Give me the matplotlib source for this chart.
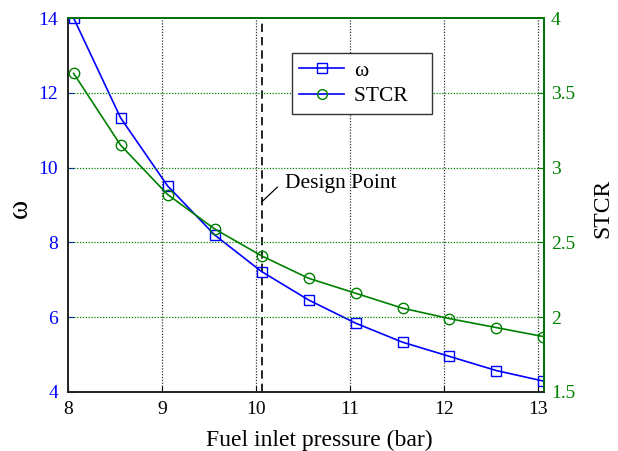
import matplotlib
matplotlib.use("Agg")
import matplotlib.pyplot as plt
from matplotlib.lines import Line2D

plt.rcParams['font.family'] = ['Liberation Serif', 'DejaVu Serif']

pressure = [8.06, 8.56, 9.06, 9.56, 10.06, 10.56, 11.06, 11.56, 12.06, 12.56, 13.06]
omega = [14.0, 11.33, 9.51, 8.20, 7.22, 6.46, 5.84, 5.33, 4.95, 4.57, 4.29]
stcr = [3.63, 3.15, 2.82, 2.59, 2.41, 2.26, 2.16, 2.06, 1.99, 1.93, 1.87]
design_point = 10.06
x_ticks = [8, 9, 10, 11, 12, 13]
left_ticks = [4, 6, 8, 10, 12, 14]
right_ticks = [1.5, 2, 2.5, 3, 3.5, 4]
right_labels = ['1.5', '2', '2.5', '3', '3.5', '4']

BLUE = '#0000ff'
GREEN = '#008000'

fig = plt.figure(figsize=(6.18, 4.51), dpi=100)
ax = fig.add_axes([0.110, 0.131, 0.770, 0.829])
ax2 = ax.twinx()

ax.plot(pressure, omega, color=BLUE, marker='s', markersize=7, markerfacecolor='none',
        markeredgecolor=BLUE, linewidth=1.2, zorder=3)
ax2.plot(pressure, stcr, color=GREEN, marker='o', markersize=7.5, markerfacecolor='none',
         markeredgecolor=GREEN, linewidth=1.2, zorder=3)

ax.set_xlim(8, 13.064)
ax.set_ylim(4, 14)
ax2.set_ylim(1.5, 4)
ax.set_xticks(x_ticks)
ax.set_yticks(left_ticks)
ax2.set_yticks(right_ticks)
ax2.set_yticklabels(right_labels)

# grids
for xv in x_ticks[1:]:
    ax.axvline(xv, color='#333333', linestyle=(0, (1, 1.3)), linewidth=0.9, zorder=1)
for yv in right_ticks[1:-1]:
    ax2.axhline(yv, color=GREEN, linestyle=(0, (1, 1.3)), linewidth=0.9, zorder=1)

ax.axvline(design_point, color='black', linestyle=(0, (5, 3)), linewidth=1.2, zorder=2)
ax.annotate('', xy=(design_point, 9.08), xytext=(10.23, 9.48),
            arrowprops=dict(arrowstyle='-', color='black', lw=0.9, shrinkA=0, shrinkB=0))
ax.text(10.31, 9.58, 'Design Point', fontsize=15.5, va='center', ha='left')

ax.tick_params(axis='x', direction='in', labelsize=14, colors='black', pad=6.5, length=4)
ax.tick_params(axis='y', direction='in', labelsize=14, labelcolor=BLUE, color=BLUE,
               length=4, pad=7)
ax2.tick_params(axis='y', direction='in', labelsize=14, labelcolor=GREEN, color=GREEN,
                length=4, pad=5)

for s in ['left', 'bottom']:
    ax.spines[s].set_color('#222222')
ax2.spines['right'].set_color(GREEN)
ax2.spines['top'].set_color(GREEN)
ax2.spines['left'].set_color('#222222')
ax2.spines['bottom'].set_color('#222222')
for a in (ax, ax2):
    for s in a.spines.values():
        s.set_linewidth(1.2)

ax.set_xlabel('Fuel inlet pressure (bar)', fontsize=17)
ax.xaxis.set_label_coords(0.529, -0.102, transform=ax.transAxes)
ax.set_ylabel('ω', fontsize=21)
ax.yaxis.set_label_coords(-0.0735, 0.49)
ax2.set_ylabel('STCR', fontsize=17)
ax2.yaxis.set_label_coords(1.101, 0.49)

handles = [
    Line2D([], [], color=BLUE, marker='s', markersize=6.5, markerfacecolor='none',
           markeredgecolor=BLUE, linewidth=1.2),
    Line2D([], [], color=BLUE, marker='o', markersize=7, markerfacecolor='none',
           markeredgecolor=GREEN, linewidth=1.2),
]
leg = ax2.legend(handles, ['ω', 'STCR   '], loc='upper left', bbox_to_anchor=(0.4706, 0.906),
                 borderaxespad=0, fontsize=15.5, frameon=True, fancybox=False,
                 edgecolor='#333333', handlelength=2.05, handletextpad=0.5,
                 borderpad=0.35, labelspacing=0.25)
leg.get_frame().set_linewidth(1.0)
leg.get_frame().set_alpha(1)

fig.savefig('out.png', dpi=100)
